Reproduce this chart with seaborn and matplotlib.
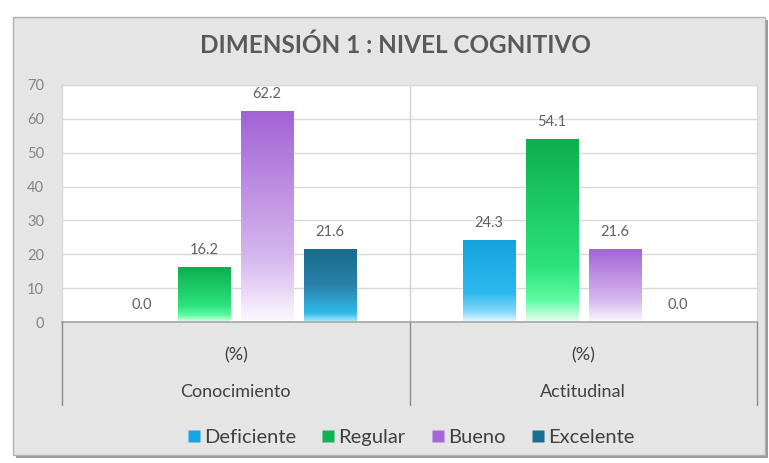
import numpy as np
import pandas as pd
import matplotlib
matplotlib.use("Agg")
import matplotlib.pyplot as plt
import seaborn as sns
from matplotlib.colors import LinearSegmentedColormap, to_rgb
from matplotlib.patches import Rectangle
from matplotlib.lines import Line2D
import matplotlib.transforms as mtransforms

# ---------------- data ----------------
categorias = ["Conocimiento", "Actitudinal"]
niveles = ["Deficiente", "Regular", "Bueno", "Excelente"]
conocimiento = [0.0, 16.2, 62.2, 21.6]
actitudinal = [24.3, 54.1, 21.6, 0.0]
sub_label = "(%)"
titulo = "DIMENSIÓN 1 : NIVEL COGNITIVO"
y_ticks = [0, 10, 20, 30, 40, 50, 60, 70]

df = pd.DataFrame({
    "categoria": np.repeat(categorias, len(niveles)),
    "nivel": niveles * len(categorias),
    "valor": conocimiento + actitudinal,
})

# ---------------- styles ----------------
base_colors = {"Deficiente": "#17A5E0", "Regular": "#10B254",
               "Bueno": "#A668D8", "Excelente": "#1C6E90"}
gradients = {
    "Deficiente": [(0.0, "#EAF9FE"), (0.12, "#86D9F7"), (0.35, "#2DB9EE"), (1.0, "#14A2DE")],
    "Regular":    [(0.0, "#E6FFEE"), (0.12, "#5EFBA2"), (0.3, "#2CE27C"), (1.0, "#0CAE4F")],
    "Bueno":      [(0.0, "#FCF8FF"), (0.3, "#D6B7EE"), (1.0, "#A262D5")],
    "Excelente":  [(0.0, "#B5EAFB"), (0.12, "#2FBBEA"), (0.5, "#2A81A9"), (1.0, "#186B8B")],
}

sns.set_theme(style="white")
plt.rcParams['font.family'] = ['Lato', 'DejaVu Sans']

W, H = 769, 463
fig = plt.figure(figsize=(W / 100, H / 100), dpi=100)
fig.patch.set_facecolor("white")

def fx(px):
    return px / W

def fy(py):
    return 1 - py / H

# shadow + panel (behind the axes)
fig.patches.append(Rectangle((fx(16), fy(458)), fx(752), (458 - 20) / H,
                             transform=fig.transFigure, facecolor="#9A9A9A",
                             edgecolor="none", zorder=-3))
fig.patches.append(Rectangle((fx(13), fy(455)), fx(752), (455 - 17) / H,
                             transform=fig.transFigure, facecolor="#E5E5E5",
                             edgecolor="#B0B0B0", lw=1.0, zorder=-2))

ax_l, ax_r, ax_t, ax_b = 62, 757, 85, 322
ax = fig.add_axes([fx(ax_l), fy(ax_b), fx(ax_r - ax_l), (ax_b - ax_t) / H])
ax.set_facecolor("white")
ax.set_zorder(1)

sns.barplot(data=df, x="categoria", y="valor", hue="nivel", order=categorias,
            hue_order=niveles, palette=base_colors, width=0.725, gap=0.17,
            ax=ax, legend=False, saturation=1)

ax.set_ylim(0, 70)
ax.set_xlim(-0.5, 1.5)
ax.set_yticks(y_ticks)
ax.yaxis.grid(True, color="#D9D9D9", lw=1.0)
ax.set_axisbelow(True)
ax.tick_params(axis="y", length=0, pad=13, labelsize=10.5, labelcolor="#858585")
ax.set_xticks([])
ax.set_xlabel("")
ax.set_ylabel("")
for s in ["top", "right", "left"]:
    ax.spines[s].set_color("#D9D9D9")
    ax.spines[s].set_linewidth(1.0)
ax.spines["bottom"].set_color("#A6A6A6")
ax.spines["bottom"].set_linewidth(1.2)
ax.axvline(0.5, color="#D0D0D0", lw=1.0, zorder=1)

# gradients on bars
hex_to_level = {tuple(np.round(to_rgb(c), 3)): k for k, c in base_colors.items()}
for p in list(ax.patches):
    h = p.get_height()
    fc = tuple(np.round(p.get_facecolor()[:3], 3))
    lvl = hex_to_level.get(fc)
    if lvl is None:
        continue
    x0 = p.get_x()
    w = p.get_width()
    if h > 0:
        cmap = LinearSegmentedColormap.from_list(lvl, gradients[lvl])
        grad = np.linspace(0, 1, 256).reshape(-1, 1)
        im = ax.imshow(grad, cmap=cmap, origin="lower", aspect="auto",
                       extent=(x0, x0 + w, 0, h), zorder=2, interpolation="bicubic")
        im.set_clip_path(p)
        p.set_facecolor("none")
        p.set_edgecolor("none")
    ax.text(x0 + w / 2, h + 3.0, f"{h:.1f}", ha="center", va="bottom",
            fontsize=10.5, color="#606060", zorder=3)

ax.set_xlim(-0.5, 1.5)
ax.set_ylim(0, 70)

# category label area below axes
trans = mtransforms.blended_transform_factory(ax.transData, fig.transFigure)
for xv in [-0.5, 0.5, 1.5]:
    fig.add_artist(Line2D([xv, xv], [fy(322), fy(405)], transform=trans,
                          color="#8C8C8C", lw=1.0))
for i, cat in enumerate(categorias):
    fig.text(i, fy(355), sub_label, transform=trans, ha="center", va="center",
             fontsize=13, color="#404040")
    fig.text(i, fy(392), cat, transform=trans, ha="center", va="center",
             fontsize=13, color="#404040")

# title
fig.text(fx(395), fy(45), titulo, ha="center", va="center", fontsize=17.5,
         fontweight="bold", color="#595959")

# legend
handles = [Line2D([], [], marker="s", linestyle="none", markersize=8.5,
                  markerfacecolor=base_colors[n], markeredgecolor="none")
           for n in niveles]
fig.legend(handles, niveles, loc="center", bbox_to_anchor=(fx(410), fy(437)),
           ncol=4, frameon=False, fontsize=14.5, handletextpad=0.1,
           columnspacing=1.2, labelcolor="#404040", handlelength=0.8)

fig.savefig("out.png", dpi=100, facecolor=fig.get_facecolor())
